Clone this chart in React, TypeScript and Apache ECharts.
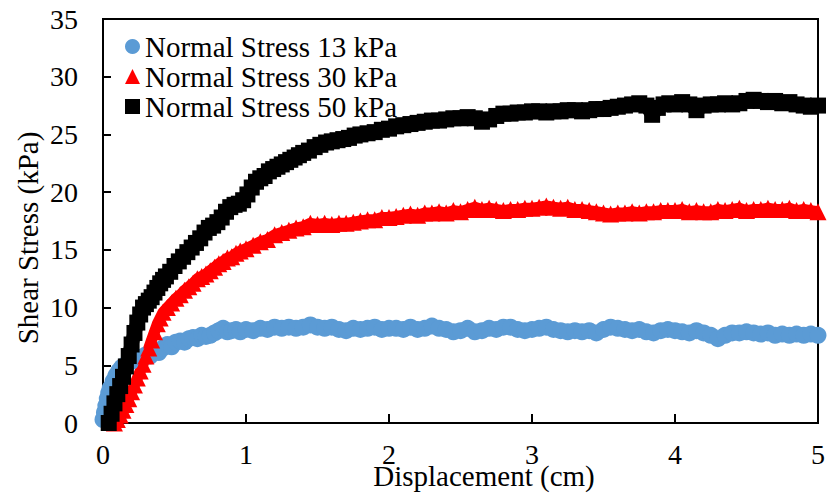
import React, { useEffect, useRef } from "react";
import * as echarts from "echarts";

const seriesNames = ["Normal Stress 13 kPa", "Normal Stress 30 kPa", "Normal Stress 50 kPa"];

const xTicks = [0, 1, 2, 3, 4, 5];
const yTicks = [0, 5, 10, 15, 20, 25, 30, 35];

const stress13: number[][] = [
  [0.00,0.3],[0.01,0.9],[0.02,1.5],[0.03,2.1],[0.04,2.6],[0.05,3.0],[0.07,3.6],[0.09,4.1],[0.11,4.5],[0.13,4.8],
  [0.15,5.0],[0.18,5.2],[0.21,5.4],[0.24,5.5],[0.27,5.7],[0.30,5.9],[0.33,5.8],[0.36,6.2],[0.39,6.1],[0.42,6.5],
  [0.45,6.8],[0.48,6.6],[0.51,7.0],[0.54,7.1],[0.57,7.0],[0.60,7.3],[0.63,7.4],[0.66,7.3],[0.69,7.6],[0.72,7.5],
  [0.75,7.6],[0.78,7.8],[0.81,8.0],[0.84,8.2],[0.87,7.9],[0.90,8.0],[0.93,8.1],[0.96,7.9],[1.00,8.1],[1.05,8.0],
  [1.10,8.2],[1.15,8.1],[1.20,8.3],[1.25,8.2],[1.30,8.3],[1.35,8.2],[1.40,8.3],[1.45,8.5],[1.50,8.3],[1.55,8.2],
  [1.60,8.3],[1.65,8.1],[1.70,8.0],[1.75,8.2],[1.80,8.1],[1.85,8.2],[1.90,8.3],[1.95,8.1],[2.00,8.2],[2.05,8.2],
  [2.10,8.1],[2.15,8.3],[2.20,8.1],[2.25,8.2],[2.30,8.4],[2.35,8.2],[2.40,8.1],[2.45,7.9],[2.50,8.0],[2.55,8.2],
  [2.60,7.9],[2.65,8.0],[2.70,8.2],[2.75,8.1],[2.80,8.3],[2.85,8.3],[2.90,8.1],[2.95,8.0],[3.00,8.1],[3.05,8.2],
  [3.10,8.3],[3.15,8.1],[3.20,8.0],[3.25,7.9],[3.30,8.0],[3.35,7.9],[3.40,8.0],[3.45,7.8],[3.50,8.1],[3.55,8.3],
  [3.60,8.2],[3.65,8.1],[3.70,8.0],[3.75,8.1],[3.80,7.9],[3.85,7.8],[3.90,8.0],[3.95,8.1],[4.00,8.0],[4.05,7.9],
  [4.10,7.8],[4.15,8.0],[4.20,7.8],[4.25,7.6],[4.30,7.3],[4.35,7.6],[4.40,7.8],[4.45,7.8],[4.50,7.9],[4.55,7.8],
  [4.60,7.7],[4.65,7.8],[4.70,7.6],[4.75,7.7],[4.80,7.6],[4.85,7.7],[4.90,7.6],[4.95,7.7],[5.00,7.6]
];

const stress30: number[][] = [
  [0.08,0.0],[0.10,0.3],[0.12,0.7],[0.14,1.1],[0.16,1.6],[0.18,2.1],[0.20,2.7],[0.22,3.3],[0.24,3.9],[0.26,4.5],
  [0.28,5.1],[0.30,5.8],[0.32,6.5],[0.34,7.2],[0.36,7.9],[0.38,8.6],[0.40,9.1],[0.42,9.6],[0.45,10.0],[0.48,10.4],
  [0.51,10.8],[0.54,11.1],[0.57,11.5],[0.60,11.8],[0.63,12.1],[0.66,12.5],[0.69,12.7],[0.72,12.9],[0.75,13.2],[0.78,13.5],
  [0.81,13.8],[0.84,14.0],[0.87,14.3],[0.90,14.4],[0.93,14.7],[0.96,14.9],[1.00,15.1],[1.05,15.4],[1.10,15.7],[1.15,15.9],
  [1.20,16.3],[1.25,16.5],[1.30,16.7],[1.35,16.9],[1.40,17.0],[1.45,17.3],[1.50,17.2],[1.55,17.3],[1.60,17.2],[1.65,17.3],
  [1.70,17.3],[1.75,17.4],[1.80,17.5],[1.85,17.6],[1.90,17.6],[1.95,17.8],[2.00,17.8],[2.05,17.9],[2.10,18.0],[2.15,18.1],
  [2.20,18.0],[2.25,18.2],[2.30,18.2],[2.35,18.3],[2.40,18.2],[2.45,18.4],[2.50,18.3],[2.55,18.5],[2.60,18.7],[2.65,18.5],
  [2.70,18.6],[2.75,18.5],[2.80,18.4],[2.85,18.5],[2.90,18.5],[2.95,18.6],[3.00,18.6],[3.05,18.7],[3.10,18.8],[3.15,18.7],
  [3.20,18.6],[3.25,18.7],[3.30,18.5],[3.35,18.5],[3.40,18.4],[3.45,18.3],[3.50,18.2],[3.55,18.1],[3.60,18.2],[3.65,18.2],
  [3.70,18.3],[3.75,18.2],[3.80,18.3],[3.85,18.3],[3.90,18.4],[3.95,18.4],[4.00,18.4],[4.05,18.5],[4.10,18.3],[4.15,18.4],
  [4.20,18.3],[4.25,18.3],[4.30,18.5],[4.35,18.4],[4.40,18.5],[4.45,18.6],[4.50,18.4],[4.55,18.5],[4.60,18.5],[4.65,18.6],
  [4.70,18.5],[4.75,18.5],[4.80,18.6],[4.85,18.4],[4.90,18.5],[4.95,18.4],[5.00,18.3]
];

const stress50: number[][] = [
  [0.04,0.0],[0.06,0.8],[0.08,1.7],[0.10,2.5],[0.12,3.2],[0.14,4.0],[0.16,4.9],[0.18,5.8],[0.20,6.8],[0.22,7.8],
  [0.24,8.7],[0.26,9.4],[0.28,10.0],[0.30,10.3],[0.32,10.6],[0.34,10.9],[0.36,11.3],[0.38,11.7],[0.40,12.1],[0.42,12.4],
  [0.44,12.7],[0.47,13.1],[0.50,13.6],[0.53,14.0],[0.56,14.4],[0.59,14.8],[0.62,15.2],[0.65,15.6],[0.68,16.0],[0.71,16.5],
  [0.74,16.9],[0.77,17.1],[0.80,17.4],[0.83,17.8],[0.86,18.3],[0.89,18.7],[0.92,18.9],[0.95,19.0],[0.98,19.3],[1.01,19.8],
  [1.04,20.4],[1.07,20.9],[1.10,21.2],[1.13,21.4],[1.16,21.8],[1.19,22.0],[1.22,22.2],[1.25,22.4],[1.28,22.6],[1.31,22.8],
  [1.34,23.0],[1.37,23.2],[1.40,23.4],[1.44,23.6],[1.48,23.9],[1.52,24.1],[1.56,24.3],[1.60,24.4],[1.64,24.5],[1.68,24.6],
  [1.72,24.7],[1.76,24.9],[1.80,25.0],[1.85,25.1],[1.90,25.2],[1.95,25.4],[2.00,25.5],[2.05,25.7],[2.10,25.8],[2.15,25.9],
  [2.20,26.0],[2.25,26.1],[2.30,26.2],[2.35,26.2],[2.40,26.3],[2.45,26.4],[2.50,26.4],[2.55,26.5],[2.60,26.4],[2.65,26.1],
  [2.70,26.3],[2.75,26.6],[2.80,26.8],[2.85,26.8],[2.90,26.9],[2.95,26.9],[3.00,27.0],[3.05,27.0],[3.10,26.9],[3.15,27.0],
  [3.20,27.0],[3.25,27.1],[3.30,27.1],[3.35,27.0],[3.40,27.1],[3.45,27.2],[3.50,27.2],[3.55,27.3],[3.60,27.4],[3.65,27.5],
  [3.70,27.6],[3.75,27.7],[3.80,27.5],[3.84,26.7],[3.88,27.3],[3.92,27.6],[3.96,27.7],[4.00,27.6],[4.05,27.8],[4.10,27.6],
  [4.15,27.1],[4.20,27.5],[4.25,27.6],[4.30,27.6],[4.35,27.7],[4.40,27.6],[4.45,27.7],[4.50,27.9],[4.55,28.0],[4.60,27.9],
  [4.65,27.8],[4.70,27.9],[4.75,27.7],[4.80,27.8],[4.85,27.6],[4.90,27.5],[4.95,27.4],[5.00,27.5]
];

const FONT = "'Liberation Serif', 'Times New Roman', serif";

export default function App() {
  const ref = useRef<HTMLDivElement>(null);

  useEffect(() => {
    if (!ref.current) return;
    const chart = echarts.init(ref.current, undefined, { renderer: "svg" });
    chart.setOption({
      animation: false,
      backgroundColor: "#ffffff",
      grid: {
        left: 103,
        right: 8,
        top: 19,
        bottom: 70,
        show: true,
        borderColor: "#000",
        borderWidth: 2,
        backgroundColor: "transparent",
      },
      legend: {
        orient: "vertical",
        left: 120,
        top: 27,
        itemWidth: 15,
        itemHeight: 15,
        itemGap: 1,
        textStyle: { fontFamily: FONT, fontSize: 29, color: "#000", lineHeight: 29 },
        data: [
          { name: seriesNames[0], icon: "circle" },
          { name: seriesNames[1], icon: "triangle" },
          { name: seriesNames[2], icon: "rect" },
        ],
      },
      xAxis: {
        type: "value",
        min: xTicks[0],
        max: xTicks[xTicks.length - 1],
        interval: 1,
        axisLine: { show: true, lineStyle: { color: "#000", width: 2 } },
        axisTick: { show: true, inside: true, length: 9, lineStyle: { color: "#000", width: 2 } },
        axisLabel: { fontFamily: FONT, fontSize: 28, color: "#000", margin: 17 },
        splitLine: { show: false },
      },
      yAxis: {
        type: "value",
        min: yTicks[0],
        max: yTicks[yTicks.length - 1],
        interval: 5,
        axisLine: { show: true, lineStyle: { color: "#000", width: 2 } },
        axisTick: { show: true, inside: true, length: 8, lineStyle: { color: "#000", width: 2 } },
        axisLabel: { fontFamily: FONT, fontSize: 28, color: "#000", margin: 25 },
        splitLine: { show: false },
      },
      graphic: [
        {
          type: "text",
          x: 484,
          y: 476,
          style: {
            text: "Displacement (cm)",
            font: `29px ${FONT}`,
            fill: "#000",
            align: "center",
            verticalAlign: "middle",
          },
        },
        {
          type: "text",
          x: 28,
          y: 238,
          rotation: Math.PI / 2,
          style: {
            text: "Shear Stress (kPa)",
            font: `29px ${FONT}`,
            fill: "#000",
            align: "center",
            verticalAlign: "middle",
          },
        },
      ],
      series: [
        {
          name: seriesNames[0],
          type: "line",
          data: stress13,
          symbol: "circle",
          symbolSize: 17,
          showSymbol: true,
          color: "#5B9BD5",
          itemStyle: { color: "#5B9BD5" },
          lineStyle: { color: "#5B9BD5", width: 13 },
        },
        {
          name: seriesNames[1],
          type: "line",
          data: stress30,
          symbol: "triangle",
          symbolSize: 17,
          showSymbol: true,
          color: "#FF0000",
          itemStyle: { color: "#FF0000" },
          lineStyle: { color: "#FF0000", width: 11 },
        },
        {
          name: seriesNames[2],
          type: "line",
          data: stress50,
          symbol: "rect",
          symbolSize: 16,
          showSymbol: true,
          color: "#000000",
          itemStyle: { color: "#000000" },
          lineStyle: { color: "#000000", width: 14 },
        },
      ],
    });
    return () => chart.dispose();
  }, []);

  return <div ref={ref} style={{ width: 828, height: 493, position: "absolute", left: 0, top: 0 }} />;
}
